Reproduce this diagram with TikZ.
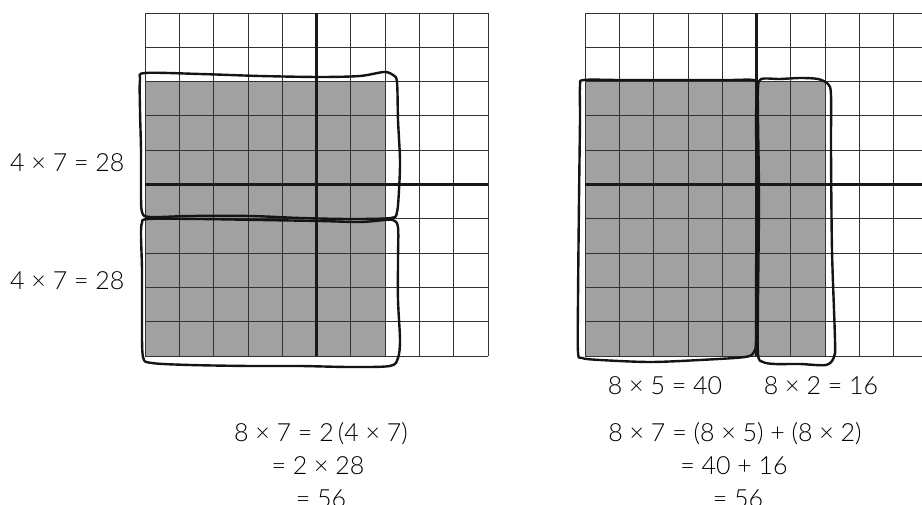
\documentclass[tikz,border=0pt]{standalone}
\usepackage{fontspec}
\setmainfont{Lato Light}
\begin{document}
\begin{tikzpicture}[x=1pt,y=-1pt,
  gridline/.style={draw=black!80,line width=0.8pt},
  axisline/.style={draw=black!90,line width=3pt},
  shadebox/.style={fill=black!37},
  loopline/.style={draw=black!92,line width=2.4pt,line join=round},
  lbl/.style={font=\fontsize{25}{30}\selectfont,inner sep=0pt,anchor=base}]
\useasboundingbox (0,0) rectangle (922,505);
% shading
\fill[shadebox] (145,81.6) rectangle (385.1,356);
\fill[shadebox] (585,81.6) rectangle (825.1,356);
% left grid
\foreach \i in {0,...,10} \draw[gridline] ({145+\i*34.3},13) -- ({145+\i*34.3},356);
\foreach \j in {0,...,10} \draw[gridline] (145,{13+\j*34.3}) -- (488,{13+\j*34.3});
\draw[axisline] (316.5,13) -- (316.5,356);
\draw[axisline] (145,184.5) -- (488,184.5);
% right grid
\foreach \i in {0,...,9} \draw[gridline] ({585+\i*34.3},13) -- ({585+\i*34.3},356);
\foreach \j in {0,...,10} \draw[gridline] (585,{13+\j*34.3}) -- (922,{13+\j*34.3});
\draw[axisline] (756.5,13) -- (756.5,356);
\draw[axisline] (585,184.5) -- (922,184.5);
% left loops
\draw[loopline] plot[smooth cycle,tension=0.5] coordinates {
 (145,73) (200,74) (260,76) (320,77) (360,76) (384,72) (393,75) (397,82)
 (398,120) (400,160) (399,190) (397,212) (391,218)
 (350,219) (300,218) (250,216) (190,216) (150,217) (142,212)
 (141,190) (141,150) (140,110) (140,80)};
\draw[loopline] plot[smooth cycle,tension=0.5] coordinates {
 (148,219) (200,219) (260,220) (320,221) (360,222) (385,220) (393,220) (398,227)
 (398,260) (398,300) (400,340) (398,358) (390,366)
 (350,367) (300,366) (250,366) (190,365) (152,363) (143,357)
 (142,320) (142,270) (141,235) (142,223)};
% right loops
\draw[loopline] plot[smooth cycle,tension=0.5] coordinates {
 (584,80) (620,80) (680,80) (730,80) (753,80) (757,86)
 (756,120) (757,200) (756,280) (756,340) (754,352) (745,357)
 (700,360) (650,362) (600,360) (582,358) (578,352)
 (578,300) (579,200) (580,120) (580,86)};
\draw[loopline] plot[smooth cycle,tension=0.5] coordinates {
 (761,79) (780,79) (800,78) (818,79) (828,84) (831,95)
 (831,150) (832,250) (835,340) (834,357) (826,365)
 (800,364) (775,364) (763,362) (758,354)
 (758,300) (759,200) (758,120) (758,88)};
% labels
\node[lbl,anchor=base west] (la) at (10,172) {4 × 7 = 28};
\node[lbl,anchor=base west] (lb) at (10,290) {4 × 7 = 28};
\node[lbl] (l1) at (321,441.7) {8 × 7 = 2\,(4 × 7)};
\node[lbl] (l2) at (318,474) {= 2 × 28};
\node[lbl] (l3) at (321,507) {= 56};
\node[lbl] (ra) at (665,395) {8 × 5 = 40};
\node[lbl] (rb) at (821,395) {8 × 2 = 16};
\node[lbl] (r1) at (735,441.7) {8 × 7 = (8 × 5) + (8 × 2)};
\node[lbl] (r2) at (734,474) {= 40 + 16};
\node[lbl] (r3) at (738,507) {= 56};
\end{tikzpicture}
\end{document}
